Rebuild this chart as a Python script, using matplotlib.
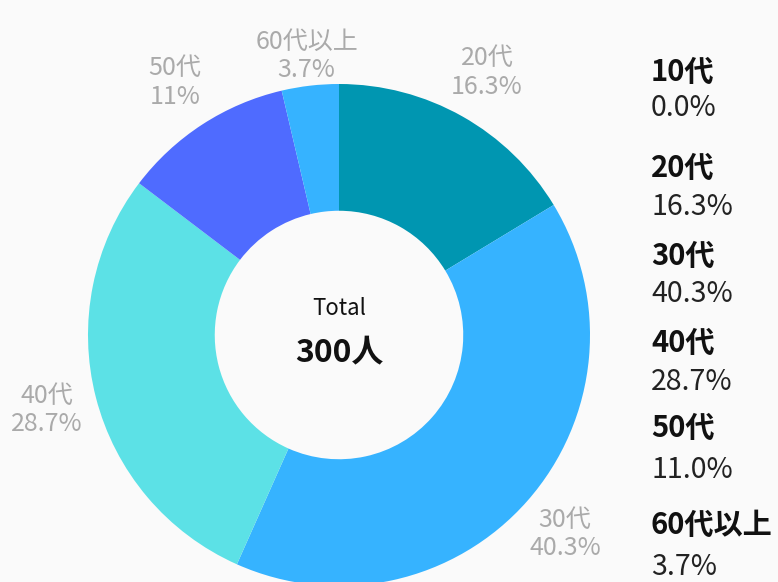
import matplotlib.pyplot as plt
import numpy as np

plt.rcParams["font.family"] = ["Noto Sans CJK JP", "DejaVu Sans"]

ages = ["10代", "20代", "30代", "40代", "50代", "60代以上"]
counts = [0, 49, 121, 86, 33, 11]
colors = ["#0096B1", "#0096B1", "#36B3FF", "#5CE1E6", "#4F6BFF", "#36B3FF"]
total = sum(counts)

BG = "#FAFAFA"
W, H = 778, 582

fig = plt.figure(figsize=(W / 100, H / 100), dpi=100, facecolor=BG)

# pie axes: centre (339, 335) px, radius 251 px
cx, cy, r = 339, 335, 251
ax = fig.add_axes([(cx - r) / W, (H - cy - r) / H, 2 * r / W, 2 * r / H])
ax.set_facecolor(BG)
ax.axis("off")

wedges, _ = ax.pie(
    counts,
    colors=colors,
    startangle=90,
    counterclock=False,
    radius=1,
    wedgeprops=dict(width=0.505, linewidth=0),
)
ax.set_xlim(-1, 1)
ax.set_ylim(-1, 1)

# outside labels
for w, age, c in zip(wedges, ages, counts):
    if c == 0:
        continue
    pct = c / total * 100
    txt = f"{pct:.1f}"
    if txt.endswith(".0"):
        txt = txt[:-2]
    ang = np.deg2rad((w.theta1 + w.theta2) / 2)
    dist = 1.12 if pct < 5 else 1.2
    ax.text(dist * np.cos(ang), dist * np.sin(ang), f"{age}\n{txt}%",
            ha="center", va="center", color="#AAAAAA", fontsize=18,
            linespacing=1.12, clip_on=False)

# centre
ax.text(0, 0.105, "Total", ha="center", va="center", fontsize=16, color="#111111")
ax.text(0, -0.07, f"{total}人", ha="center", va="center", fontsize=23,
        fontweight="bold", color="#111111")

# legend on the right
label_y = [72, 168, 256, 343, 428, 525]
value_y = [108, 207, 294, 382, 470, 567]
for age, c, y1, y2 in zip(ages, counts, label_y, value_y):
    fig.text(651 / W, 1 - y1 / H, age, ha="left", va="center", fontsize=21,
             fontweight="bold", color="#111111")
    fig.text(651 / W, 1 - y2 / H, f"{c / total * 100:.1f}%", ha="left",
             va="center", fontsize=20.5, color="#222222")

fig.savefig("out.png", dpi=100, facecolor=BG)
